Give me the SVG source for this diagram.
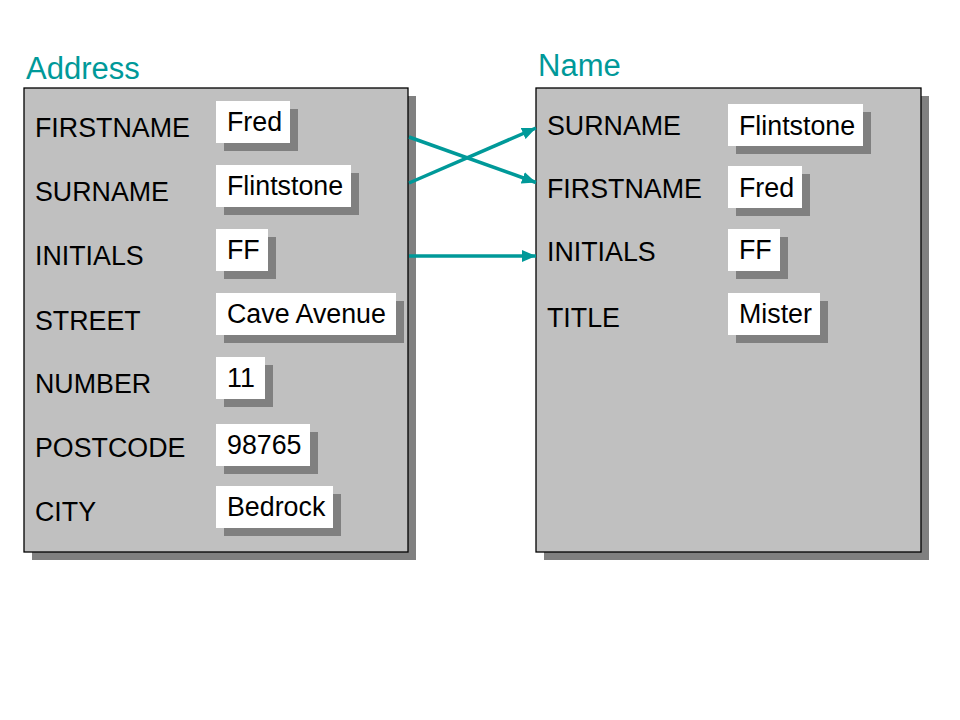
<svg xmlns="http://www.w3.org/2000/svg" width="960" height="720" viewBox="0 0 960 720">
<defs>
<style>
.title{font-family:"Liberation Sans",Arial,sans-serif;font-size:31px;fill:#009999}
.lbl{font-family:"Liberation Sans",Arial,sans-serif;font-size:26.8px;fill:#000}
.panel{fill:#C0C0C0;stroke:#000;stroke-width:1.3}
.shadow{fill:#808080}
.val{fill:#fff}
.conn{stroke:#009999;stroke-width:3.5;fill:none;marker-end:url(#ah)}
</style>
<marker id="ah" viewBox="0 0 14 12" refX="14" refY="6" markerWidth="14" markerHeight="12" markerUnits="userSpaceOnUse" orient="auto">
<path d="M0,0 L14,6 L0,12 Z" fill="#009999"/>
</marker>
</defs>
<rect width="960" height="720" fill="#fff"/>

<g id="address">
<text class="title" x="26" y="79">Address</text>
<rect class="shadow" x="32" y="96" width="384" height="464"/>
<rect class="panel" x="24" y="88" width="384" height="464"/>
<g id="a-firstname">
<text class="lbl" x="35" y="137">FIRSTNAME</text>
<rect class="shadow" x="224" y="109" width="74" height="42"/>
<rect class="val" x="216" y="101" width="74" height="42"/>
<text class="lbl" x="227" y="131">Fred</text>
</g>
<g id="a-surname">
<text class="lbl" x="35" y="201">SURNAME</text>
<rect class="shadow" x="224" y="173" width="135" height="42"/>
<rect class="val" x="216" y="165" width="135" height="42"/>
<text class="lbl" x="227" y="195">Flintstone</text>
</g>
<g id="a-initials">
<text class="lbl" x="35" y="265">INITIALS</text>
<rect class="shadow" x="224" y="237" width="52" height="42"/>
<rect class="val" x="216" y="229" width="52" height="42"/>
<text class="lbl" x="227" y="259">FF</text>
</g>
<g id="a-street">
<text class="lbl" x="35" y="330">STREET</text>
<rect class="shadow" x="224" y="301" width="180" height="42"/>
<rect class="val" x="216" y="293" width="180" height="42"/>
<text class="lbl" x="227" y="323">Cave Avenue</text>
</g>
<g id="a-number">
<text class="lbl" x="35" y="393">NUMBER</text>
<rect class="shadow" x="224" y="365" width="49" height="42"/>
<rect class="val" x="216" y="357" width="49" height="42"/>
<text class="lbl" x="227" y="387">11</text>
</g>
<g id="a-postcode">
<text class="lbl" x="35" y="457">POSTCODE</text>
<rect class="shadow" x="224" y="432" width="94" height="42"/>
<rect class="val" x="216" y="424" width="94" height="42"/>
<text class="lbl" x="227" y="454">98765</text>
</g>
<g id="a-city">
<text class="lbl" x="35" y="521">CITY</text>
<rect class="shadow" x="224" y="494" width="117" height="42"/>
<rect class="val" x="216" y="486" width="117" height="42"/>
<text class="lbl" x="227" y="516">Bedrock</text>
</g>
</g>

<g id="name">
<text class="title" x="538" y="76">Name</text>
<rect class="shadow" x="544" y="96" width="385" height="464"/>
<rect class="panel" x="536" y="88" width="385" height="464"/>
<g id="n-surname">
<text class="lbl" x="547" y="135">SURNAME</text>
<rect class="shadow" x="736" y="112" width="135" height="42"/>
<rect class="val" x="728" y="104" width="135" height="42"/>
<text class="lbl" x="739" y="135">Flintstone</text>
</g>
<g id="n-firstname">
<text class="lbl" x="547" y="198">FIRSTNAME</text>
<rect class="shadow" x="736" y="174" width="74" height="42"/>
<rect class="val" x="728" y="166" width="74" height="42"/>
<text class="lbl" x="739" y="197">Fred</text>
</g>
<g id="n-initials">
<text class="lbl" x="547" y="261">INITIALS</text>
<rect class="shadow" x="736" y="237" width="52" height="42"/>
<rect class="val" x="728" y="229" width="52" height="42"/>
<text class="lbl" x="739" y="259">FF</text>
</g>
<g id="n-title">
<text class="lbl" x="547" y="327">TITLE</text>
<rect class="shadow" x="736" y="301" width="92" height="42"/>
<rect class="val" x="728" y="293" width="92" height="42"/>
<text class="lbl" x="739" y="323">Mister</text>
</g>
</g>

<g id="connectors">
<line class="conn" x1="409" y1="137" x2="536" y2="182.5"/>
<line class="conn" x1="409" y1="183" x2="536" y2="128"/>
<line class="conn" x1="409" y1="256" x2="536" y2="256"/>
</g>
</svg>
